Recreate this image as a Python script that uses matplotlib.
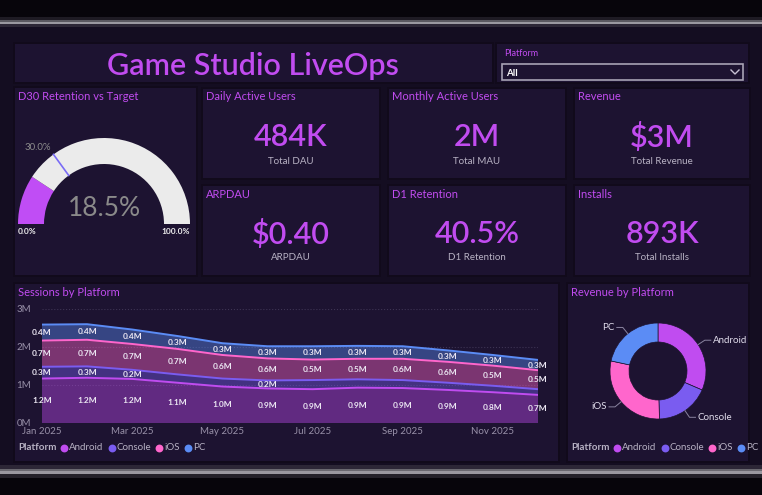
import matplotlib
matplotlib.use("Agg")
import matplotlib.pyplot as plt
from matplotlib.patches import Rectangle, Wedge
import numpy as np

plt.rcParams['font.family'] = ['Lato', 'DejaVu Sans']

# ---- data ----
months = ['Jan 2025', 'Feb 2025', 'Mar 2025', 'Apr 2025', 'May 2025', 'Jun 2025',
          'Jul 2025', 'Aug 2025', 'Sep 2025', 'Oct 2025', 'Nov 2025', 'Dec 2025']
platforms = ['Android', 'Console', 'iOS', 'PC']
sessions_android = [1.17, 1.19, 1.16, 1.06, 0.96, 0.91, 0.89, 0.93, 0.92, 0.87, 0.81, 0.74]
sessions_console = [0.31, 0.30, 0.24, 0.22, 0.21, 0.21, 0.24, 0.22, 0.21, 0.19, 0.17, 0.15]
sessions_ios = [0.69, 0.70, 0.68, 0.67, 0.62, 0.58, 0.54, 0.54, 0.56, 0.55, 0.53, 0.50]
sessions_pc = [0.42, 0.41, 0.38, 0.34, 0.31, 0.32, 0.35, 0.34, 0.33, 0.30, 0.28, 0.27]
console_label_shown = [True, True, True, False, False, True, False, False, False, False, False, False]

revenue_by_platform = [0.96, 0.55, 0.88, 0.66]  # $M

kpi_titles = ['Daily Active Users', 'Monthly Active Users', 'Revenue', 'ARPDAU', 'D1 Retention', 'Installs']
kpi_values = ['484K', '2M', '$3M', '$0.40', '40.5%', '893K']
kpi_subtitles = ['Total DAU', 'Total MAU', 'Total Revenue', 'ARPDAU', 'D1 Retention', 'Total Installs']

d30_retention = 0.185
d30_target = 0.30

# ---- style ----
W, H = 762, 495
PAGE = '#140d21'
PANEL = '#1d1331'
PURPLE = '#c14cf0'
colors = ['#c04cf0', '#7a5cf0', '#ff66cc', '#5b8cf5']

fig = plt.figure(figsize=(W / 100, H / 100), dpi=100)
fig.patch.set_facecolor(PAGE)
bg = fig.add_axes([0, 0, 1, 1])
bg.set_xlim(0, W)
bg.set_ylim(H, 0)
bg.axis('off')


def px_axes(x0, y0, x1, y1):
    a = fig.add_axes([x0 / W, 1 - y1 / H, (x1 - x0) / W, (y1 - y0) / H])
    a.patch.set_alpha(0)
    return a


def rect(x0, y0, x1, y1, c, z=0):
    bg.add_patch(Rectangle((x0, y0), x1 - x0, y1 - y0, facecolor=c, edgecolor='none', zorder=z))


# frame bands
for y0, y1, c in [(0, 17, '#07050b'), (17, 20, '#1e1b24'), (20, 22, '#5a5860'), (22, 24, '#9a98a0'),
                  (24, 27, '#2c2636'),
                  (465, 469, '#2c2636'), (469, 471, '#6a6870'), (471, 474, '#9a98a0'), (474, 478, '#24212a'),
                  (478, 495, '#07050b')]:
    rect(0, y0, W, y1, c)

# panels
panels = [(15, 44, 492, 82), (497, 44, 748, 82), (15, 88, 196, 275),
          (203, 89, 379, 178), (389, 89, 565, 178), (575, 89, 749, 178),
          (203, 186, 379, 275), (389, 186, 565, 275), (575, 186, 749, 275),
          (15, 284, 558, 461), (568, 284, 748, 461)]
for p in panels:
    rect(p[0] - 2, p[1] - 2, p[2] + 2, p[3] + 2, '#110a1b', 1)
    rect(*p, PANEL, 2)

# title + slicer
bg.text(253, 66, 'Game Studio LiveOps', color=PURPLE, fontsize=22, fontweight='semibold',
        ha='center', va='center', zorder=5)
bg.text(504, 53, 'Platform', color=PURPLE, fontsize=6.5, ha='left', va='center', zorder=5)
bg.add_patch(Rectangle((502, 64), 241, 16, facecolor=PANEL, edgecolor='#a8a2b4', lw=1.2, zorder=5))
bg.text(506, 73, 'All', color='white', fontsize=7, fontweight='bold', ha='left', va='center', zorder=6)
bg.plot([731, 735, 739], [70, 74, 70], color='#c8c2d4', lw=1, zorder=6)

# KPI cards
card_boxes = panels[3:9]
for (x0, y0, x1, y1), t, v, s in zip(card_boxes, kpi_titles, kpi_values, kpi_subtitles):
    cx = (x0 + x1) / 2
    bg.text(x0 + 3, y0 + 8, t, color=PURPLE, fontsize=8, ha='left', va='center', zorder=5)
    bg.text(cx, y0 + 48, v, color=PURPLE, fontsize=22, fontweight='semibold', ha='center',
            va='center', zorder=5)
    bg.text(cx, y0 + 72, s, color='#b8b2c4', fontsize=7, ha='center', va='center', zorder=5)

# ---- gauge ----
bg.text(18, 97, 'D30 Retention vs Target', color=PURPLE, fontsize=8, ha='left', va='center', zorder=5)
gx = px_axes(15, 88, 196, 275)
gx.set_xlim(-89, 92)
gx.set_ylim(-51, 136)
gx.axis('off')
R, r = 86, 60
fill_ang = 180 - 180 * d30_retention
gx.add_patch(Wedge((0, 0), R, fill_ang, 180, width=R - r, facecolor='#c04df5', edgecolor='none'))
gx.add_patch(Wedge((0, 0), R, 0, fill_ang, width=R - r, facecolor='#ebebeb', edgecolor='none'))
ta = np.radians(180 - 180 * d30_target)
gx.plot([r * np.cos(ta), R * np.cos(ta)], [r * np.sin(ta), R * np.sin(ta)], color='#7a6cf5', lw=1.2)
gx.text(-66, 76, f'{d30_target * 100:.1f}%', color='#8c8c8c', fontsize=7, ha='center', va='center')
gx.text(0, 15, f'{d30_retention * 100:.1f}%', color='#8a8a8a', fontsize=19, ha='center', va='center')
gx.text(-86, -8, '0.0%', color='#eeeeee', fontsize=6, fontweight='bold', ha='left', va='center')
gx.text(86, -8, '100.0%', color='#eeeeee', fontsize=6, fontweight='bold', ha='right', va='center')

# ---- sessions stacked area ----
bg.text(18, 293, 'Sessions by Platform', color=PURPLE, fontsize=8, ha='left', va='center', zorder=5)
ax = px_axes(42, 309, 538, 423)
ax.set_zorder(5)
x = np.arange(len(months))
series = [sessions_android, sessions_console, sessions_ios, sessions_pc]
ax.stackplot(x, *series, colors=colors, alpha=0.42, lw=0)
cum = np.cumsum(np.array(series), axis=0)
for i, c in enumerate(colors):
    ax.plot(x, cum[i], color=c, lw=1.4)
for i in range(len(series)):
    base = cum[i - 1] if i > 0 else np.zeros(len(x))
    for j in range(len(x)):
        if i == 1 and not console_label_shown[j]:
            continue
        ax.text(x[j], base[j] + series[i][j] / 2, f'{series[i][j]:.1f}M', color='#ebe6f2',
                fontsize=6, fontweight='bold', ha='center', va='center')
ax.set_xlim(0, 11)
ax.set_ylim(0, 3)
ax.set_yticks([0, 1, 2, 3])
ax.set_yticklabels(['0M', '1M', '2M', '3M'])
ax.set_xticks(x[::2])
ax.set_xticklabels(months[::2])
ax.tick_params(colors='#9890a8', labelsize=7, length=0)
ax.tick_params(axis='y', pad=8)
ax.tick_params(axis='x', pad=3)
for s in ax.spines.values():
    s.set_visible(False)
ax.grid(axis='y', color='#3e3454', ls=':', lw=0.8)
ax.set_axisbelow(True)

# ---- donut ----
bg.text(571, 293, 'Revenue by Platform', color=PURPLE, fontsize=8, ha='left', va='center', zorder=5)
dx = px_axes(568, 284, 748, 461)
dx.set_zorder(5)
Rd, wd = 48, 19
wedges, _ = dx.pie(revenue_by_platform, colors=colors, radius=Rd, startangle=90, counterclock=False,
                   wedgeprops=dict(width=wd, edgecolor=PANEL, lw=0.5))
dx.set_xlim(-90, 90)
dx.set_ylim(-90, 87)
dx.set_aspect('equal')
for w, name in zip(wedges, platforms):
    mid = np.radians((w.theta1 + w.theta2) / 2)
    sx, sy = Rd * np.cos(mid), Rd * np.sin(mid)
    ex, ey = (Rd + 8) * np.cos(mid), (Rd + 8) * np.sin(mid)
    side = 1 if np.cos(mid) >= 0 else -1
    hx = ex + 6 * side
    dx.plot([sx, ex, hx], [sy, ey, ey], color='#8a84a0', lw=0.7)
    dx.text(hx + 2 * side, ey, name, color='#e0dceb', fontsize=7, ha='left' if side > 0 else 'right',
            va='center')

# ---- legends ----
fig.canvas.draw()
rend = fig.canvas.get_renderer()


def legend(x0, y):
    t = bg.text(x0, y, 'Platform', color='#b8b2c4', fontsize=7, fontweight='bold', ha='left',
                va='center', zorder=6)
    xx = x0 + t.get_window_extent(rend).width + 8
    for name, c in zip(platforms, colors):
        bg.scatter([xx], [y], s=32, color=c, zorder=6, lw=0)
        tt = bg.text(xx + 5, y, name, color='#b8b2c4', fontsize=7, ha='left', va='center', zorder=6)
        xx = xx + 5 + tt.get_window_extent(rend).width + 8


legend(18, 448)
legend(571, 448)

fig.savefig('out.png', dpi=100, facecolor=PAGE)
